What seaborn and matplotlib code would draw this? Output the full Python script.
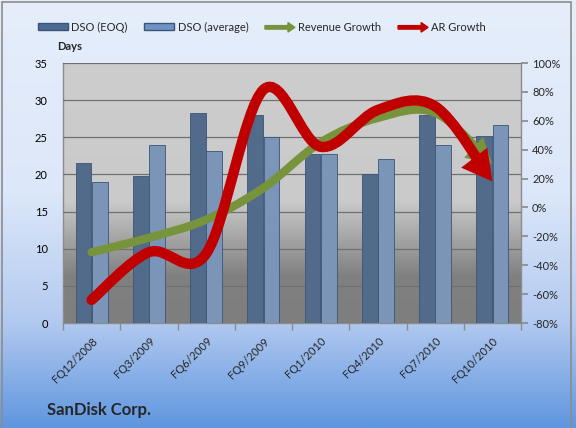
import numpy as np
import pandas as pd
import seaborn as sns
import matplotlib.pyplot as plt
import matplotlib.patches as mpatches
from matplotlib.path import Path
from matplotlib.colors import LinearSegmentedColormap
from matplotlib.legend_handler import HandlerPatch
from matplotlib.ticker import FixedLocator, FuncFormatter

quarters = ['FQ12/2008', 'FQ3/2009', 'FQ6/2009', 'FQ9/2009',
            'FQ1/2010', 'FQ4/2010', 'FQ7/2010', 'FQ10/2010']
dso_eoq = [21.5, 19.8, 28.3, 28.0, 22.7, 20.0, 28.0, 25.2]
dso_avg = [19.0, 23.9, 23.2, 25.0, 22.7, 22.1, 23.9, 26.6]
revenue_growth = [-0.31, -0.21, -0.085, 0.135, 0.45, 0.62, 0.655, 0.30]
ar_growth = [-0.64, -0.31, -0.32, 0.815, 0.42, 0.675, 0.70, 0.18]

C_EOQ = '#4A6A93'
C_AVG = '#6F94C3'
C_REV = '#77933C'
C_AR = '#C00000'

sns.set_theme(style='white')
plt.rcParams['font.family'] = ['Lato', 'DejaVu Sans']

fig = plt.figure(figsize=(5.76, 4.28), dpi=100)

# figure background gradient
bg = fig.add_axes([0, 0, 1, 1], zorder=-10)
bg_cmap = LinearSegmentedColormap.from_list(
    'bg', [(0, '#5F96DF'), (0.25, '#B3CAF0'), (0.55, '#DCE7F9'), (1, '#E6EEFB')])
bg.imshow(np.linspace(0, 1, 256).reshape(-1, 1), cmap=bg_cmap, aspect='auto',
          extent=[0, 1, 0, 1], origin='lower')
bg.axis('off')
fig.patches.append(mpatches.Rectangle((2 / 576, -0.01), 569 / 576, (426 / 428) + 0.01,
                                      transform=fig.transFigure, fill=False,
                                      edgecolor='#8C8C8C', lw=1.2))

ax = fig.add_axes([63 / 576, 105 / 428, 458 / 576, 260 / 428])

df = pd.DataFrame({
    'quarter': quarters * 2,
    'days': dso_eoq + dso_avg,
    'series': ['DSO (EOQ)'] * len(quarters) + ['DSO (average)'] * len(quarters),
})
sns.barplot(data=df, x='quarter', y='days', hue='series', palette=[C_EOQ, C_AVG],
            width=0.57, gap=0.04, edgecolor='#3B5478', linewidth=0.6,
            legend=False, ax=ax, zorder=3)

# plot area gradient
pa_cmap = LinearSegmentedColormap.from_list(
    'pa', [(0, '#7E7E7E'), (0.18, '#808080'), (0.47, '#CACACA'), (1, '#CDCDCD')])
ax.imshow(np.linspace(0, 1, 256).reshape(-1, 1), cmap=pa_cmap, aspect='auto',
          extent=[-0.5, 7.5, 0, 35], origin='lower', zorder=0)
ax.set_xlim(-0.5, 7.5)
ax.set_ylim(0, 35)
ax.set_yticks(range(0, 36, 5))
ax.yaxis.grid(True, color='#707070', lw=0.9, zorder=1)
ax.set_axisbelow(False)
for line in ax.get_ygridlines():
    line.set_zorder(1)
ax.set_xlabel('')
ax.set_ylabel('')
ax.tick_params(axis='y', length=0, labelsize=8, colors='#000000', pad=11)
ax.tick_params(axis='x', length=0, labelsize=8, pad=9)
ax.xaxis.set_minor_locator(FixedLocator(np.arange(-0.5, 8, 1)))
ax.tick_params(axis='x', which='minor', length=5, color='#8C8C8C', direction='out', bottom=True)
plt.setp(ax.get_xticklabels(), rotation=45, ha='right', rotation_mode='anchor')
ax.spines['top'].set_visible(False)
for s in ['left', 'right', 'bottom']:
    ax.spines[s].set_color('#8C8C8C')
    ax.spines[s].set_linewidth(1)

ax2 = ax.twinx()
ax2.set_ylim(-0.8, 1.0)
ax2.set_yticks(np.arange(-0.8, 1.01, 0.2))
ax2.yaxis.set_major_formatter(FuncFormatter(lambda v, p: f'{round(v * 100):d}%'))
ax2.tick_params(axis='y', length=5, direction='out', color='#8C8C8C', labelsize=8, pad=3)
ax2.grid(False)
for s in ax2.spines.values():
    s.set_visible(False)


def smooth_path(xs, ys):
    pts = np.column_stack([xs, ys]).astype(float)
    n = len(pts)
    verts = [pts[0]]
    codes = [Path.MOVETO]
    for i in range(n - 1):
        p0 = pts[max(i - 1, 0)]
        p1 = pts[i]
        p2 = pts[i + 1]
        p3 = pts[min(i + 2, n - 1)]
        verts += [p1 + (p2 - p0) / 6, p2 - (p3 - p1) / 6, p2]
        codes += [Path.CURVE4] * 3
    return Path(verts, codes)


xs = np.arange(len(quarters))
for vals, col, lw, hl, hw in [(revenue_growth, C_REV, 6.0, 9, 5),
                              (ar_growth, C_AR, 7.5, 10, 5.5)]:
    arrow = mpatches.FancyArrowPatch(
        path=smooth_path(xs, vals),
        arrowstyle=mpatches.ArrowStyle('-|>', head_length=hl, head_width=hw),
        color=col, lw=lw, joinstyle='miter', capstyle='round',
        transform=ax2.transData, zorder=5)
    ax2.add_patch(arrow)


def legend_arrow(legend, orig_handle, xdescent, ydescent, width, height, fontsize):
    return mpatches.FancyArrow(0, height / 2, width, 0, width=height * 0.55,
                               head_width=height * 1.5, head_length=height * 1.1,
                               length_includes_head=True)


handles = [
    mpatches.Patch(facecolor=C_EOQ, edgecolor='#3B5478', label='DSO (EOQ)'),
    mpatches.Patch(facecolor=C_AVG, edgecolor='#3B5478', label='DSO (average)'),
    mpatches.FancyArrow(0, 0, 1, 0, color=C_REV, label='Revenue Growth'),
    mpatches.FancyArrow(0, 0, 1, 0, color=C_AR, label='AR Growth'),
]
fig.legend(handles=handles, loc='center', bbox_to_anchor=(262 / 576, 1 - 27 / 428),
           ncol=4, frameon=False, fontsize=8, handlelength=2.7, handleheight=0.5,
           handletextpad=0.3, columnspacing=1.5,
           handler_map={mpatches.FancyArrow: HandlerPatch(patch_func=legend_arrow)})

fig.text(70 / 576, 1 - 47 / 428, 'Days', fontsize=8, fontweight='bold', ha='center', va='center')
fig.text(47 / 576, 1 - 410 / 428, 'SanDisk Corp.', fontsize=12, fontweight='bold',
         ha='left', va='center')

fig.savefig('out.png', dpi=100)
